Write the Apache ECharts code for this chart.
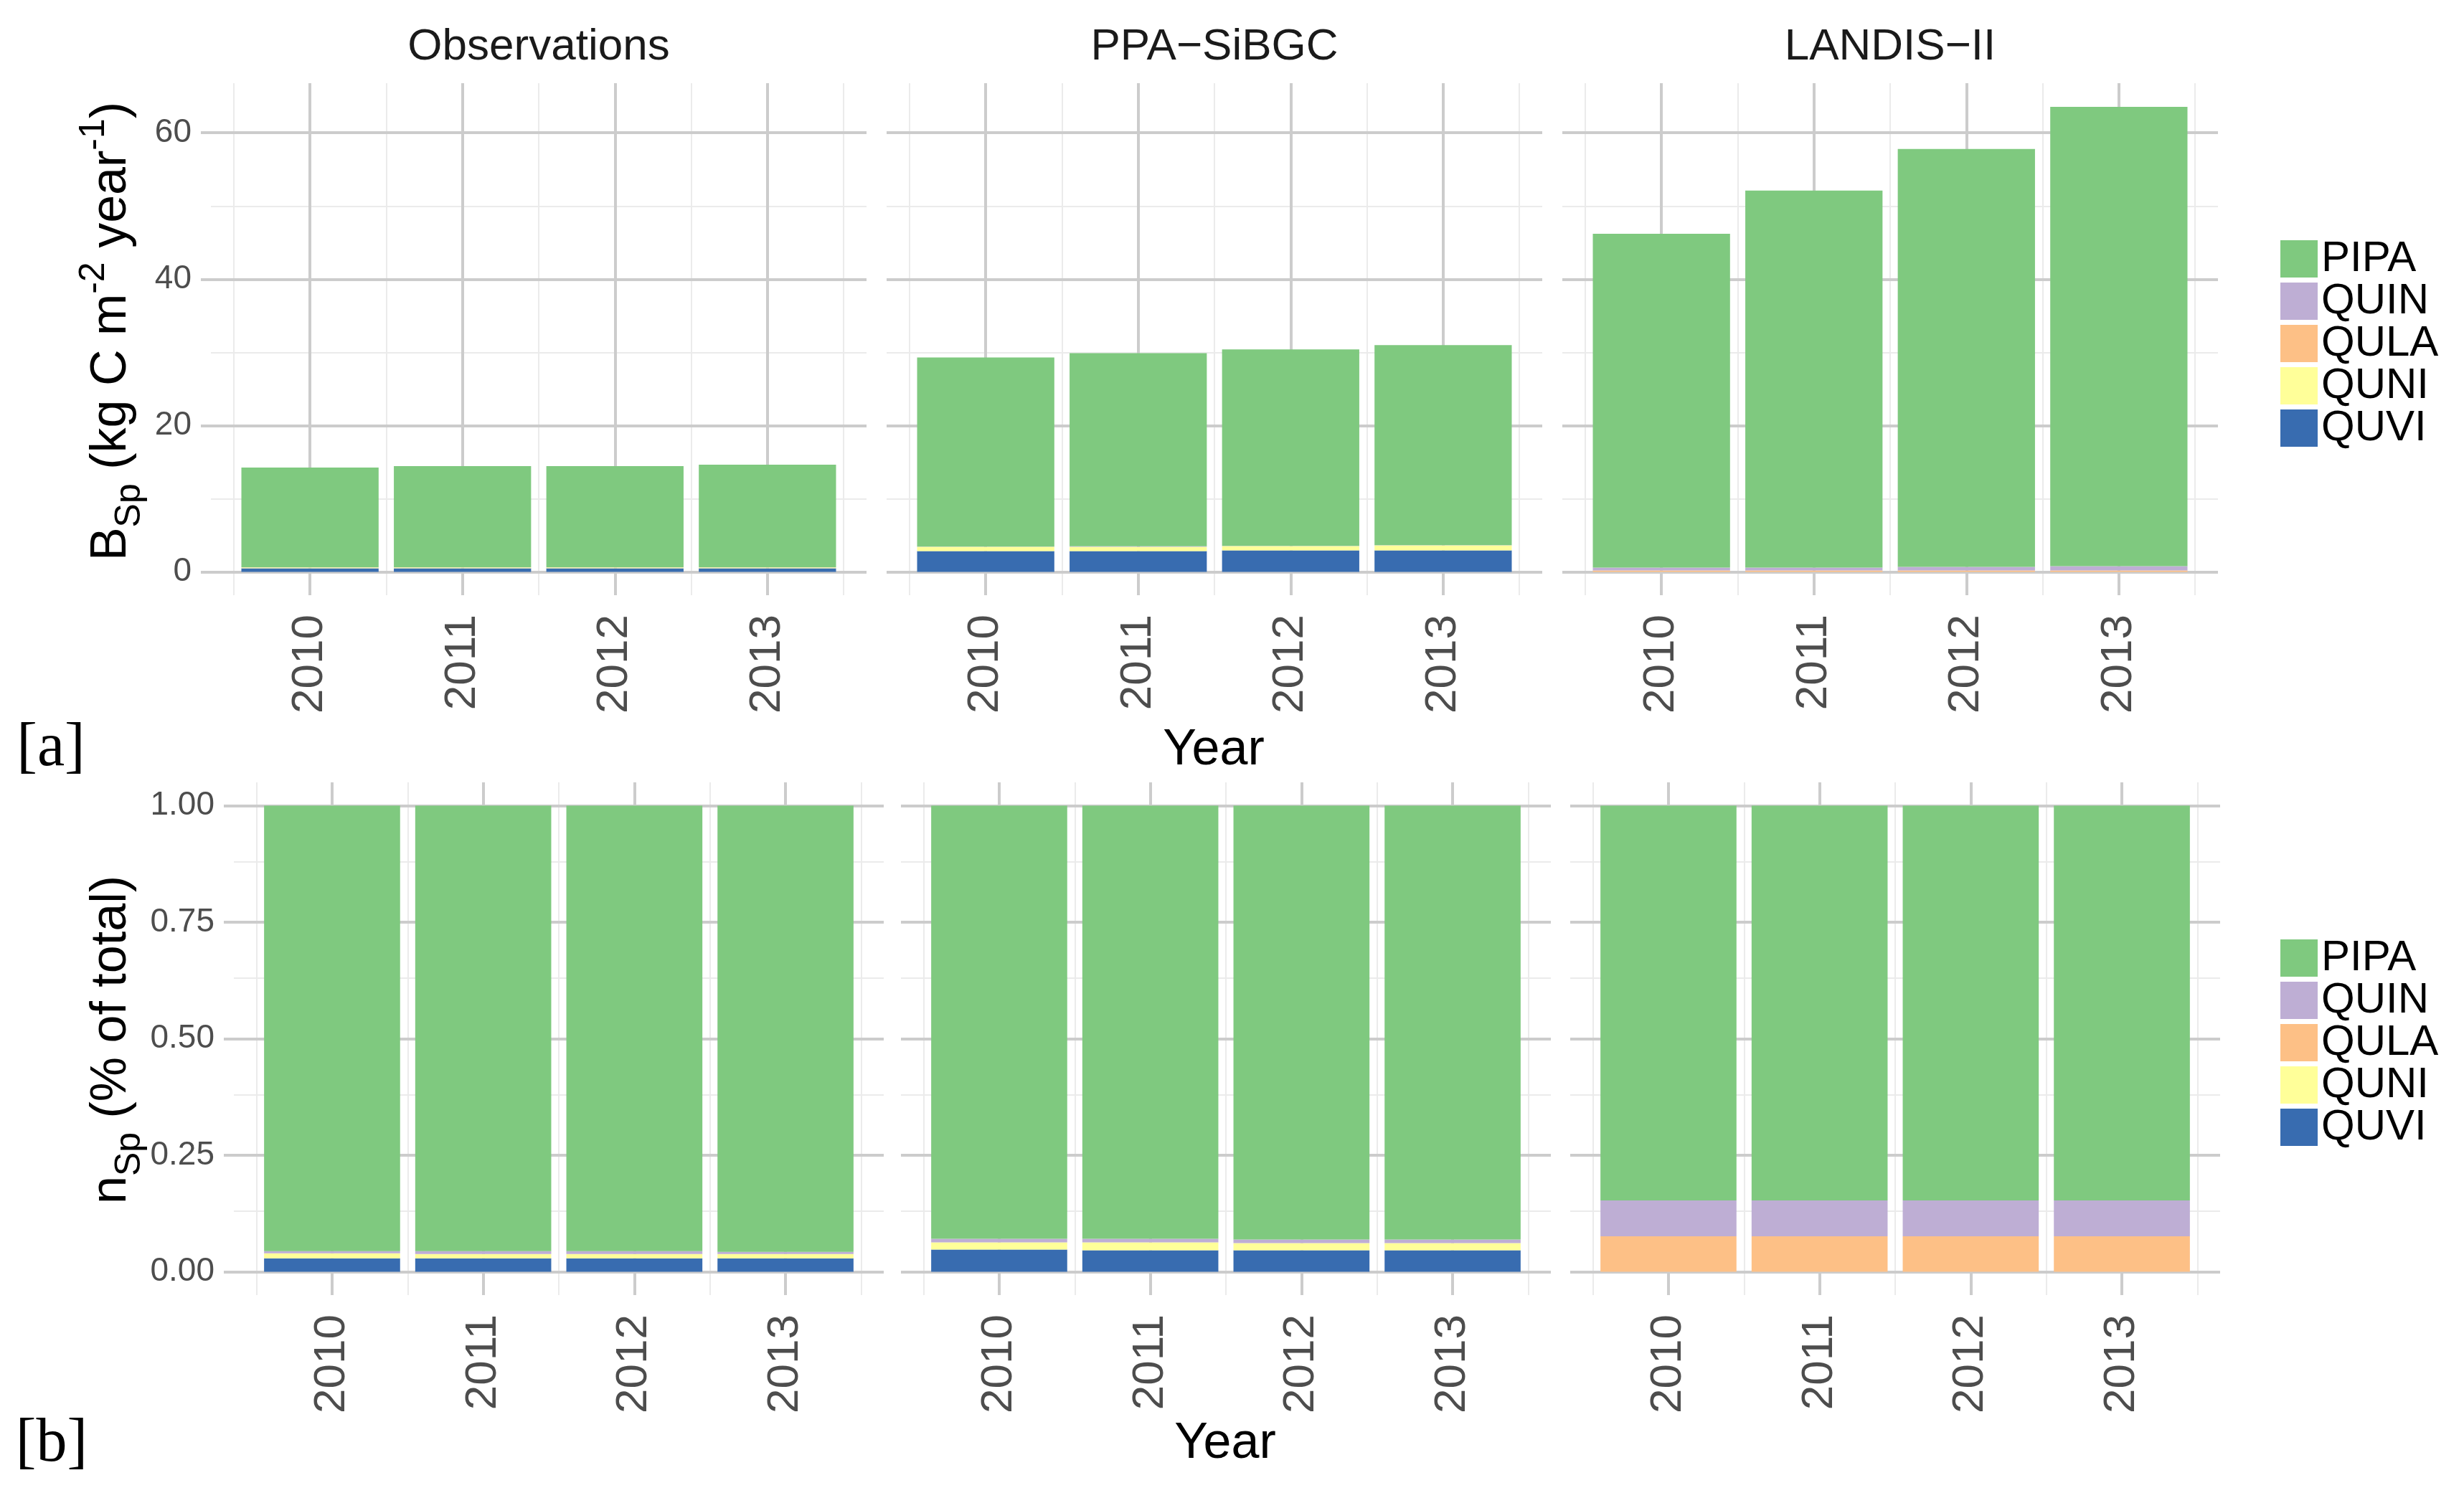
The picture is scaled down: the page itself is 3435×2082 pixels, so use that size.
<!DOCTYPE html>
<html>
<head>
<meta charset="utf-8">
<script src="https://cdn.jsdelivr.net/npm/echarts@6/dist/echarts.min.js"></script>
<style>
html,body{margin:0;padding:0;background:#fff;}
#chart{width:3435px;height:2082px;}
</style>
</head>
<body>
<div id="chart"></div>
<script>
// ---------------- data ----------------
const years = ['2010', '2011', '2012', '2013'];
const models = ['Observations', 'PPA\u2212SiBGC', 'LANDIS\u2212II'];
const stackOrder = ['QUVI', 'QUNI', 'QULA', 'QUIN', 'PIPA'];   // bottom -> top
const legendOrder = ['PIPA', 'QUIN', 'QULA', 'QUNI', 'QUVI'];
const speciesColors = ['#386cb0', '#ffff99', '#fdc086', '#beaed4', '#7fc97f']; // same order as stackOrder

const biomassTicks = [0, 20, 40, 60];
const biomassMinor = [10, 30, 50];
const shareTicks = [0, 0.25, 0.5, 0.75, 1];
const shareMinor = [0.125, 0.375, 0.625, 0.875];

// [a] biomass, kg C m-2 year-1  (per species, per year)
const obsB_QUVI = [0.50, 0.50, 0.50, 0.50];
const obsB_QUNI = [0.12, 0.12, 0.12, 0.12];
const obsB_QULA = [0, 0, 0, 0];
const obsB_QUIN = [0.02, 0.02, 0.02, 0.02];
const obsB_PIPA = [13.62, 13.81, 13.81, 14.01];

const ppaB_QUVI = [2.85, 2.85, 2.94, 2.94];
const ppaB_QUNI = [0.58, 0.58, 0.59, 0.69];
const ppaB_QULA = [0, 0, 0, 0];
const ppaB_QUIN = [0.03, 0.08, 0.03, 0.03];
const ppaB_PIPA = [25.84, 26.39, 26.84, 27.34];

const lanB_QUVI = [0, 0, 0, 0];
const lanB_QUNI = [0, 0, 0, 0];
const lanB_QULA = [0.20, 0.20, 0.20, 0.20];
const lanB_QUIN = [0.40, 0.40, 0.50, 0.60];
const lanB_PIPA = [45.60, 51.50, 57.10, 62.75];

// [b] share of stems (fraction of total)
const obsN_QUVI = [0.0290, 0.0290, 0.0290, 0.0290];
const obsN_QUNI = [0.0108, 0.0092, 0.0092, 0.0092];
const obsN_QULA = [0, 0, 0, 0];
const obsN_QUIN = [0.0046, 0.0062, 0.0062, 0.0046];
const obsN_PIPA = [0.9556, 0.9556, 0.9556, 0.9572];

const ppaN_QUVI = [0.0477, 0.0461, 0.0461, 0.0461];
const ppaN_QUNI = [0.0154, 0.0169, 0.0154, 0.0154];
const ppaN_QULA = [0, 0, 0, 0];
const ppaN_QUIN = [0.0077, 0.0077, 0.0077, 0.0077];
const ppaN_PIPA = [0.9292, 0.9293, 0.9308, 0.9308];

const lanN_QUVI = [0, 0, 0, 0];
const lanN_QUNI = [0, 0, 0, 0];
const lanN_QULA = [0.076, 0.076, 0.076, 0.076];
const lanN_QUIN = [0.077, 0.077, 0.077, 0.077];
const lanN_PIPA = [0.847, 0.847, 0.847, 0.847];

const biomassPanels = [
  [obsB_QUVI, obsB_QUNI, obsB_QULA, obsB_QUIN, obsB_PIPA],
  [ppaB_QUVI, ppaB_QUNI, ppaB_QULA, ppaB_QUIN, ppaB_PIPA],
  [lanB_QUVI, lanB_QUNI, lanB_QULA, lanB_QUIN, lanB_PIPA]
];
const sharePanels = [
  [obsN_QUVI, obsN_QUNI, obsN_QULA, obsN_QUIN, obsN_PIPA],
  [ppaN_QUVI, ppaN_QUNI, ppaN_QULA, ppaN_QUIN, ppaN_PIPA],
  [lanN_QUVI, lanN_QUNI, lanN_QULA, lanN_QUIN, lanN_PIPA]
];

// ---------------- layout ----------------
const FONT = '"Liberation Sans", Arial, Helvetica, sans-serif';
const MAJOR = '#cccccc', MINOR = '#ebebeb';
const xPos = [1, 2, 3, 4];
const rows = [
  {lefts: [294, 1236, 2178], width: 914, top: 116, height: 714, min: -3.18, max: 66.78,
   ticks: biomassTicks, minor: biomassMinor, fmt: v => String(v), panels: biomassPanels},
  {lefts: [326, 1256, 2189], width: 906, top: 1091, height: 715, min: -0.05, max: 1.05,
   ticks: shareTicks, minor: shareMinor, fmt: v => v.toFixed(2), panels: sharePanels}
];

const grids = [], xAxes = [], yAxes = [], series = [];
rows.forEach((row, r) => {
  row.lefts.forEach((left, p) => {
    const g = grids.length;
    grids.push({left: left, top: row.top, width: row.width, height: row.height, containLabel: false});
    xAxes.push({
      type: 'value', gridIndex: g, min: 0.35, max: 4.65,
      axisLine: {show: false}, splitLine: {show: false},
      axisTick: {show: true, customValues: xPos, length: 14, lineStyle: {color: MAJOR, width: 4}},
      axisLabel: {customValues: xPos, rotate: 90, margin: 27, fontSize: 62, color: '#4d4d4d', fontFamily: FONT,
                  formatter: v => years[Math.round(v) - 1] || ''}
    });
    yAxes.push({
      type: 'value', gridIndex: g, min: row.min, max: row.max,
      axisLine: {show: false}, splitLine: {show: false},
      axisTick: {show: p === 0, customValues: row.ticks, length: 14, lineStyle: {color: MAJOR, width: 4}},
      axisLabel: {show: p === 0, customValues: row.ticks, margin: 27, fontSize: 46, color: '#4d4d4d', fontFamily: FONT,
                  formatter: row.fmt}
    });
    // panel grid lines
    const ml = [];
    [0.5, 1.5, 2.5, 3.5, 4.5].forEach(v => ml.push({xAxis: v, lineStyle: {color: MINOR, width: 2, type: 'solid'}}));
    row.minor.forEach(v => ml.push({yAxis: v, lineStyle: {color: MINOR, width: 2, type: 'solid'}}));
    xPos.forEach(v => ml.push({xAxis: v, lineStyle: {color: MAJOR, width: 4, type: 'solid'}}));
    row.ticks.forEach(v => ml.push({yAxis: v, lineStyle: {color: MAJOR, width: 4, type: 'solid'}}));
    series.push({
      type: 'line', name: 'grid' + g, xAxisIndex: g, yAxisIndex: g, data: [], silent: true,
      markLine: {silent: true, symbol: ['none', 'none'], label: {show: false}, z: 1, animation: false, data: ml}
    });
    row.panels[p].forEach((vals, s) => {
      series.push({
        type: 'bar', name: stackOrder[s], stack: 'st' + g, xAxisIndex: g, yAxisIndex: g,
        barWidth: '90%', z: 3,
        itemStyle: {color: speciesColors[s]},
        // value first so that stacking happens on the value (y) dimension
        encode: {x: 1, y: 0},
        data: vals.map((v, i) => [v, xPos[i]])
      });
    });
  });
});

const legendCommon = {
  orient: 'vertical', left: 3179, padding: 0, itemWidth: 52, itemHeight: 52, itemGap: -1, icon: 'rect',
  selectedMode: false, data: legendOrder,
  textStyle: {fontSize: 60, color: '#000', fontFamily: FONT}
};

const textEl = (x, y, text, size, fill) => ({
  type: 'text', x: x, y: y, silent: true,
  style: {text: text, fontSize: size, fontFamily: FONT, fill: fill || '#000', align: 'center', verticalAlign: 'middle'}
});

const richY = {
  b: {fontSize: 70, fontFamily: FONT, fill: '#000', lineHeight: 100},
  sub: {fontSize: 50, fontFamily: FONT, fill: '#000', verticalAlign: 'bottom', lineHeight: 50},
  sup: {fontSize: 50, fontFamily: FONT, fill: '#000', verticalAlign: 'top', lineHeight: 50}
};
const SERIF = '"Liberation Serif", "Times New Roman", serif';

const graphics = [
  textEl(751, 66, models[0], 62, '#1a1a1a'),
  textEl(1693, 66, models[1], 62, '#1a1a1a'),
  textEl(2635, 66, models[2], 62, '#1a1a1a'),
  textEl(1692, 1047, 'Year', 70),
  textEl(1708, 2014, 'Year', 70),
  {type: 'text', x: 71, y: 1044, silent: true,
   style: {text: '[a]', fontSize: 86, fontFamily: SERIF, fill: '#000', align: 'center', verticalAlign: 'middle'}},
  {type: 'text', x: 72, y: 2014, silent: true,
   style: {text: '[b]', fontSize: 86, fontFamily: SERIF, fill: '#000', align: 'center', verticalAlign: 'middle'}},
  {type: 'text', x: 156, y: 462, rotation: Math.PI / 2, silent: true,
   style: {text: '{b|B}{sub|Sp}{b| (kg C m}{sup|-2}{b| year}{sup|-1}{b|)}', rich: richY, align: 'center', verticalAlign: 'middle'}},
  {type: 'text', x: 156, y: 1450, rotation: Math.PI / 2, silent: true,
   style: {text: '{b|n}{sub|Sp}{b| (% of total)}', rich: richY, align: 'center', verticalAlign: 'middle'}}
];

const chart = echarts.init(document.getElementById('chart'));
chart.setOption({
  backgroundColor: '#ffffff',
  animation: false,
  grid: grids,
  xAxis: xAxes,
  yAxis: yAxes,
  legend: [Object.assign({top: 331}, legendCommon), Object.assign({top: 1306}, legendCommon)],
  series: series,
  graphic: graphics
});
</script>
</body>
</html>
